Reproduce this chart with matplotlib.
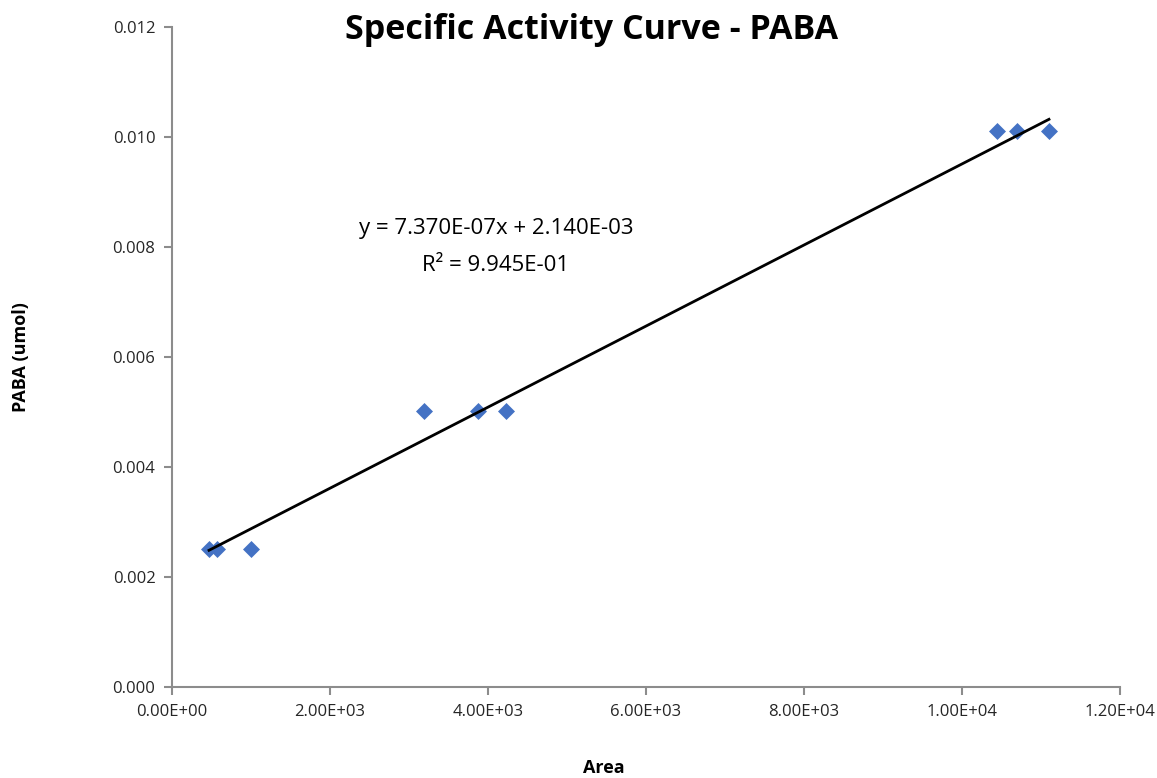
import numpy as np
import matplotlib.pyplot as plt
from matplotlib.ticker import FuncFormatter

# standard curve: peak area vs PABA amount
area = [468, 570, 1000, 3190, 3873, 4228, 10443, 10696, 11101]
paba_umol = [0.00251, 0.00251, 0.00251, 0.00502, 0.00502, 0.00502, 0.0101, 0.0101, 0.0101]

# linear trendline coefficients
slope = 7.370e-07
intercept = 2.140e-03
r_squared = 9.945e-01

plt.rcParams['font.family'] = ['Open Sans', 'DejaVu Sans']

fig = plt.figure(figsize=(11.57, 7.78), dpi=100)
ax = fig.add_axes([0.1487, 0.1170, 0.8193, 0.8483])

ax.scatter(area, paba_umol, marker='D', s=75, color='#4472C4', zorder=3, linewidths=0)

xs = np.array([min(area), max(area)])
ax.plot(xs, slope * xs + intercept, color='black', linewidth=2, zorder=4)

ax.set_xlim(0, 12000)
ax.set_ylim(0, 0.012)
ax.set_xticks(np.arange(0, 12001, 2000))
ax.set_yticks(np.arange(0, 0.0121, 0.002))
ax.xaxis.set_major_formatter(FuncFormatter(lambda v, p: f"{v:.2E}"))
ax.yaxis.set_major_formatter(FuncFormatter(lambda v, p: f"{v:.3f}"))

for side in ('top', 'right'):
    ax.spines[side].set_visible(False)
for side in ('left', 'bottom'):
    ax.spines[side].set_color('#8c8c8c')
    ax.spines[side].set_linewidth(1.5)
ax.tick_params(direction='out', length=6, width=1.5, color='#8c8c8c',
               labelsize=12, labelcolor='#262626', pad=6)

# axis titles and chart title placed in figure coordinates
fig.text(0.522, 0.013, 'Area', ha='center', va='center', fontsize=13, fontweight='bold')
fig.text(0.018, 0.541, 'PABA (umol)', ha='center', va='center', rotation=90,
         fontsize=13, fontweight='bold')
fig.text(0.511, 0.962, 'Specific Activity Curve - PABA', ha='center', va='center',
         fontsize=24.5, fontweight='bold')

ax.text(4100, 0.00800, f"y = {slope:.3E}x + {intercept:.3E}\nR² = {r_squared:.3E}",
        ha='center', va='center', fontsize=16, linespacing=2.0, multialignment='center')

fig.savefig('out.png', dpi=100)
